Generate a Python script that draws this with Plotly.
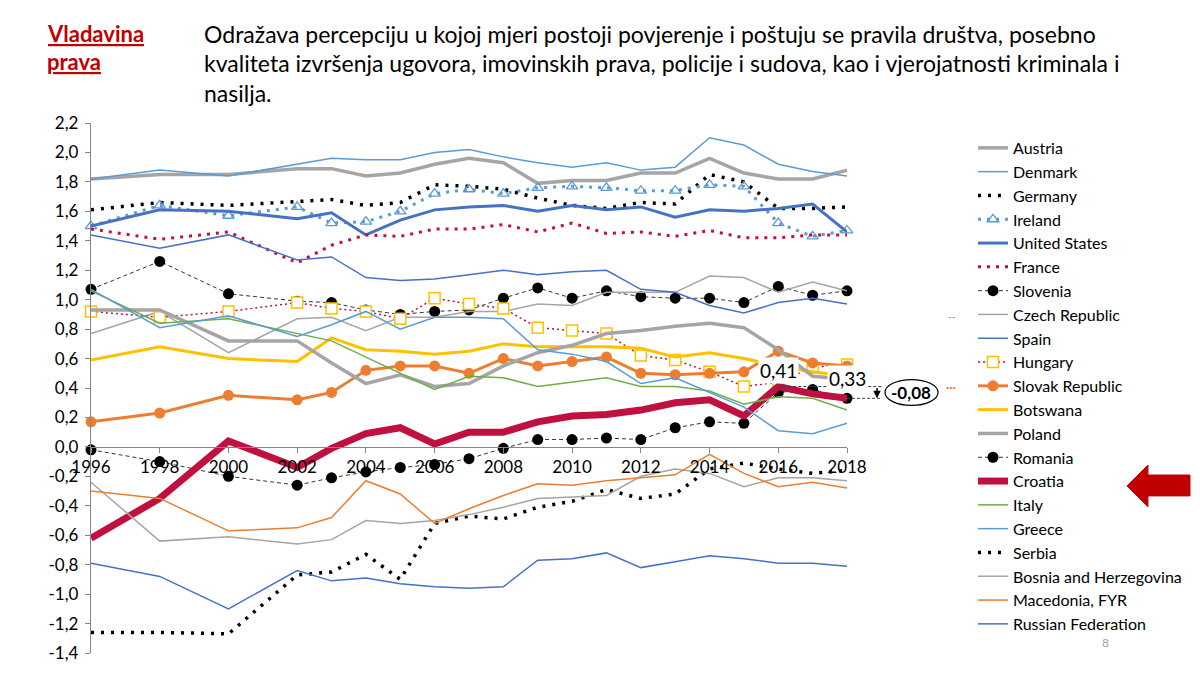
import plotly.graph_objects as go

# WGI "Rule of Law" estimates
years = [1996, 1998, 2000, 2002, 2003, 2004, 2005, 2006, 2007, 2008,
         2009, 2010, 2011, 2012, 2013, 2014, 2015, 2016, 2017, 2018]

austria = [1.82, 1.85, 1.85, 1.89, 1.89, 1.84, 1.86, 1.92, 1.96, 1.93, 1.79, 1.81, 1.81, 1.86, 1.86, 1.96, 1.86, 1.82, 1.82, 1.88]
denmark = [1.82, 1.88, 1.84, 1.92, 1.96, 1.95, 1.95, 2.00, 2.02, 1.97, 1.93, 1.90, 1.93, 1.88, 1.90, 2.10, 2.05, 1.92, 1.87, 1.84]
germany = [1.61, 1.66, 1.64, 1.67, 1.68, 1.64, 1.66, 1.78, 1.77, 1.75, 1.69, 1.64, 1.62, 1.66, 1.65, 1.85, 1.80, 1.62, 1.62, 1.63]
ireland = [1.50, 1.64, 1.57, 1.63, 1.52, 1.53, 1.60, 1.72, 1.75, 1.72, 1.76, 1.77, 1.76, 1.74, 1.74, 1.78, 1.77, 1.52, 1.43, 1.47]
united_states = [1.50, 1.61, 1.60, 1.55, 1.59, 1.44, 1.54, 1.61, 1.63, 1.64, 1.60, 1.64, 1.61, 1.63, 1.56, 1.61, 1.60, 1.62, 1.65, 1.46]
france = [1.48, 1.41, 1.46, 1.25, 1.37, 1.44, 1.43, 1.48, 1.48, 1.51, 1.46, 1.52, 1.45, 1.46, 1.43, 1.47, 1.42, 1.42, 1.44, 1.44]
slovenia = [1.07, 1.26, 1.04, 0.99, 0.98, 0.93, 0.90, 0.92, 0.93, 1.01, 1.08, 1.01, 1.06, 1.02, 1.01, 1.01, 0.98, 1.09, 1.03, 1.06]
czech = [0.77, 0.92, 0.64, 0.87, 0.88, 0.79, 0.88, 0.88, 0.92, 0.92, 0.97, 0.96, 1.05, 1.05, 1.05, 1.16, 1.15, 1.05, 1.12, 1.06]
spain = [1.44, 1.35, 1.44, 1.27, 1.29, 1.15, 1.13, 1.14, 1.17, 1.20, 1.17, 1.19, 1.20, 1.07, 1.05, 0.96, 0.91, 0.98, 1.01, 0.97]
hungary = [0.92, 0.88, 0.92, 0.98, 0.94, 0.92, 0.87, 1.01, 0.97, 0.94, 0.81, 0.79, 0.77, 0.62, 0.59, 0.51, 0.41, 0.44, 0.54, 0.56]
slovakia = [0.17, 0.23, 0.35, 0.32, 0.37, 0.52, 0.55, 0.55, 0.50, 0.60, 0.55, 0.58, 0.61, 0.50, 0.49, 0.50, 0.51, 0.65, 0.57, 0.55]
botswana = [0.59, 0.68, 0.60, 0.58, 0.74, 0.66, 0.65, 0.63, 0.65, 0.70, 0.68, 0.68, 0.68, 0.67, 0.61, 0.64, 0.60, 0.55, 0.51, 0.48]
poland = [0.93, 0.93, 0.72, 0.72, 0.57, 0.43, 0.49, 0.41, 0.43, 0.55, 0.64, 0.69, 0.77, 0.79, 0.82, 0.84, 0.81, 0.66, 0.48, 0.46]
romania = [-0.02, -0.10, -0.20, -0.26, -0.21, -0.17, -0.14, -0.12, -0.08, -0.01, 0.05, 0.05, 0.06, 0.05, 0.13, 0.17, 0.16, 0.37, 0.39, 0.33]
croatia = [-0.62, -0.35, 0.04, -0.14, -0.01, 0.09, 0.13, 0.02, 0.10, 0.10, 0.17, 0.21, 0.22, 0.25, 0.30, 0.32, 0.21, 0.41, 0.36, 0.33]
italy = [1.06, 0.84, 0.87, 0.77, 0.72, 0.61, 0.50, 0.39, 0.48, 0.47, 0.41, 0.44, 0.47, 0.41, 0.41, 0.38, 0.29, 0.34, 0.33, 0.25]
greece = [1.07, 0.81, 0.89, 0.75, 0.83, 0.92, 0.80, 0.88, 0.88, 0.87, 0.66, 0.63, 0.58, 0.43, 0.47, 0.37, 0.27, 0.11, 0.09, 0.16]
serbia = [-1.26, -1.26, -1.27, -0.87, -0.85, -0.73, -0.90, -0.52, -0.47, -0.49, -0.41, -0.37, -0.29, -0.35, -0.32, -0.15, -0.11, -0.15, -0.18, -0.16]
bosnia = [-0.24, -0.64, -0.61, -0.66, -0.63, -0.50, -0.52, -0.50, -0.46, -0.41, -0.35, -0.34, -0.33, -0.20, -0.15, -0.18, -0.27, -0.21, -0.21, -0.23]
macedonia = [-0.30, -0.35, -0.57, -0.55, -0.48, -0.23, -0.32, -0.52, -0.42, -0.33, -0.25, -0.26, -0.23, -0.21, -0.19, -0.05, -0.18, -0.27, -0.24, -0.28]
russia = [-0.79, -0.88, -1.10, -0.84, -0.91, -0.89, -0.93, -0.95, -0.96, -0.95, -0.77, -0.76, -0.72, -0.82, -0.78, -0.74, -0.76, -0.79, -0.79, -0.81]

year_ticks = [1996, 1998, 2000, 2002, 2004, 2006, 2008, 2010, 2012, 2014, 2016, 2018]
y_ticks = [-1.4, -1.2, -1.0, -0.8, -0.6, -0.4, -0.2, 0.0, 0.2, 0.4, 0.6, 0.8, 1.0, 1.2, 1.4, 1.6, 1.8, 2.0, 2.2]
y_labels = ["-1,4", "-1,2", "-1,0", "-0,8", "-0,6", "-0,4", "-0,2", "0,0", "0,2", "0,4", "0,6",
            "0,8", "1,0", "1,2", "1,4", "1,6", "1,8", "2,0", "2,2"]

title_word = ["Vladavina", "prava"]
desc_lines = [
    "Odražava percepciju u kojoj mjeri postoji povjerenje i poštuju se pravila društva, posebno",
    "kvaliteta izvršenja ugovora, imovinskih prava, policije i sudova, kao i vjerojatnosti kriminala i",
    "nasilja.",
]

FONT = "Lato"
CRIMSON = "#C0103F"
GRAY = "#A5A5A5"
LBLUE = "#5B9BD5"
BLUE = "#4472C4"
ORANGE = "#ED7D31"
YELLOW = "#FFC000"

# plot area in pixels (for decorations outside the data)
L, R, T, B = 91, 847, 123, 656
YMIN, YMAX = -1.4, 2.2
PX_PER_UNIT = (B - T) / (YMAX - YMIN)


def pxx(px):
    return (px - L) / (R - L)


def pxy(py):
    return (B - py) / (B - T)


def yr_paper(yr):
    return (yr - years[0]) / (years[-1] - years[0])


def val_paper(v):
    return (v - YMIN) / (YMAX - YMIN)


fig = go.Figure()


def add(name, vals, color, width, dash="solid", marker=None):
    mode = "lines+markers" if marker else "lines"
    fig.add_trace(go.Scatter(
        x=years, y=vals, name=name, mode=mode,
        line=dict(color=color, width=width, dash=dash),
        marker=marker, cliponaxis=False,
    ))


dot_circle = dict(symbol="circle", size=11, color="black")

add("Austria", austria, GRAY, 3.5)
add("Denmark", denmark, LBLUE, 1.5)
add("Germany", germany, "black", 3.5, "3px,7px")
add("Ireland", ireland, LBLUE, 3, "3px,6px",
    dict(symbol="triangle-up-open", size=10, color=LBLUE, line=dict(width=1.3)))
add("United States", united_states, BLUE, 3)
add("France", france, CRIMSON, 3, "3px,6px")
add("Slovenia", slovenia, "black", 0.8, "4px,3px", dot_circle)
add("Czech Republic", czech, GRAY, 1.5)
add("Spain", spain, BLUE, 1.5)
add("Hungary", hungary, CRIMSON, 1.5, "2px,3px",
    dict(symbol="square", size=11, color="white", line=dict(color=YELLOW, width=1.5)))
add("Slovak Republic", slovakia, ORANGE, 3, "solid", dict(symbol="circle", size=11, color=ORANGE))
add("Botswana", botswana, YELLOW, 3)
add("Poland", poland, GRAY, 3.5)
add("Romania", romania, "black", 0.8, "4px,3px", dot_circle)
add("Croatia", croatia, CRIMSON, 7)
add("Italy", italy, "#70AD47", 1.5)
add("Greece", greece, LBLUE, 1.5)
add("Serbia", serbia, "black", 3.5, "3px,7px")
add("Bosnia and Herzegovina", bosnia, GRAY, 1.5)
add("Macedonia, FYR", macedonia, ORANGE, 1.5)
add("Russian Federation", russia, BLUE, 1.5)

annotations = []
shapes = []

# heading
for i, w in enumerate(title_word):
    annotations.append(dict(
        x=pxx(45), y=pxy(33 + 28 * i), xref="paper", yref="paper",
        xanchor="left", yanchor="middle", showarrow=False,
        text="<b><u>" + w + "</u></b>", font=dict(family=FONT, size=22, color="#C00000")))
for i, line in enumerate(desc_lines):
    annotations.append(dict(
        x=pxx(202), y=pxy(33 + 30 * i), xref="paper", yref="paper",
        xanchor="left", yanchor="middle", showarrow=False,
        text=line, font=dict(family=FONT, size=23, color="black")))

# Croatia 2016 vs 2018 labels
i16 = years.index(2016)
v16, v18 = croatia[i16], croatia[-1]
annotations.append(dict(x=2016, y=v16, xref="x", yref="y", yshift=16, showarrow=False,
                        text=f"{v16:.2f}".replace(".", ","),
                        font=dict(family=FONT, size=19, color="black"), bgcolor="white"))
annotations.append(dict(x=2018, y=v18, xref="x", yref="y", yshift=20, showarrow=False,
                        text=f"{v18:.2f}".replace(".", ","),
                        font=dict(family=FONT, size=19, color="black"), bgcolor="white"))

x_end = pxx(882)
for yr, v in ((2016, v16), (2018, v18)):
    shapes.append(dict(type="line", xref="paper", yref="paper",
                       x0=yr_paper(yr), x1=x_end, y0=val_paper(v), y1=val_paper(v),
                       line=dict(color="#404040", width=1, dash="3px,2px")))
# down arrow between the two levels
annotations.append(dict(x=pxx(877), y=val_paper(v18), xref="paper", yref="paper",
                        ax=0, ay=-(v16 - v18) * PX_PER_UNIT,
                        showarrow=True, arrowhead=2, arrowsize=1, arrowwidth=1.5,
                        arrowcolor="black", text=""))
diff = round(v18 - v16, 2)
shapes.append(dict(type="circle", xref="paper", yref="paper",
                   x0=pxx(885), x1=pxx(938), y0=pxy(407), y1=pxy(381),
                   line=dict(color="black", width=1.2)))
annotations.append(dict(x=pxx(911.5), y=pxy(394.5), xref="paper", yref="paper",
                        xanchor="center", yanchor="middle", showarrow=False,
                        text="<b>" + f"{diff:.2f}".replace(".", ",") + "</b>",
                        font=dict(family=FONT, size=17, color="black")))

# stray marks beside the legend
annotations.append(dict(x=pxx(952), y=pxy(317), xref="paper", yref="paper", showarrow=False,
                        xanchor="center", yanchor="middle",
                        text="--", font=dict(family=FONT, size=10, color="#7F7F7F")))
annotations.append(dict(x=pxx(951), y=pxy(388), xref="paper", yref="paper", showarrow=False,
                        xanchor="center", yanchor="middle",
                        text="<b>···</b>", font=dict(family=FONT, size=12, color=ORANGE)))

# page number
annotations.append(dict(x=pxx(1105), y=pxy(645), xref="paper", yref="paper", showarrow=False,
                        xanchor="center", yanchor="middle",
                        text="8", font=dict(family=FONT, size=12, color="#A0A0A0")))

# red arrow pointing at Croatia in the legend
pts = [(1127, 488), (1148, 467), (1148, 477), (1190, 477), (1190, 498), (1148, 498), (1148, 509)]
path = "M " + " L ".join(f"{pxx(a):.4f},{pxy(b):.4f}" for a, b in pts) + " Z"
shapes.append(dict(type="path", xref="paper", yref="paper", path=path,
                   fillcolor="#C00000", line=dict(color="#C00000", width=1)))

fig.update_layout(
    width=1200, height=675,
    margin=dict(l=L, r=1200 - R, t=T, b=675 - B),
    paper_bgcolor="white", plot_bgcolor="white",
    font=dict(family=FONT, size=15, color="black"),
    showlegend=True,
    legend=dict(x=pxx(973), y=pxy(131), xanchor="left", yanchor="top",
                font=dict(family=FONT, size=16, color="black"),
                bgcolor="rgba(0,0,0,0)", traceorder="normal"),
    xaxis=dict(range=[years[0], years[-1]], anchor="free", position=val_paper(0),
               showline=True, linecolor="#868686", linewidth=1.3,
               ticks="outside", ticklen=5, tickcolor="#868686",
               tickvals=year_ticks, ticktext=[str(y) for y in year_ticks],
               showgrid=False, zeroline=False, tickfont=dict(size=17)),
    yaxis=dict(range=[YMIN, YMAX], showline=True, linecolor="#868686", linewidth=1.3,
               ticks="outside", ticklen=5, tickcolor="#868686", ticklabelstandoff=3,
               tickvals=y_ticks, ticktext=y_labels,
               showgrid=False, zeroline=False, tickfont=dict(size=17)),
    annotations=annotations,
    shapes=shapes,
)

fig.write_html("out.html", config={"displayModeBar": False},
               post_script="document.body.style.margin='0px';")
